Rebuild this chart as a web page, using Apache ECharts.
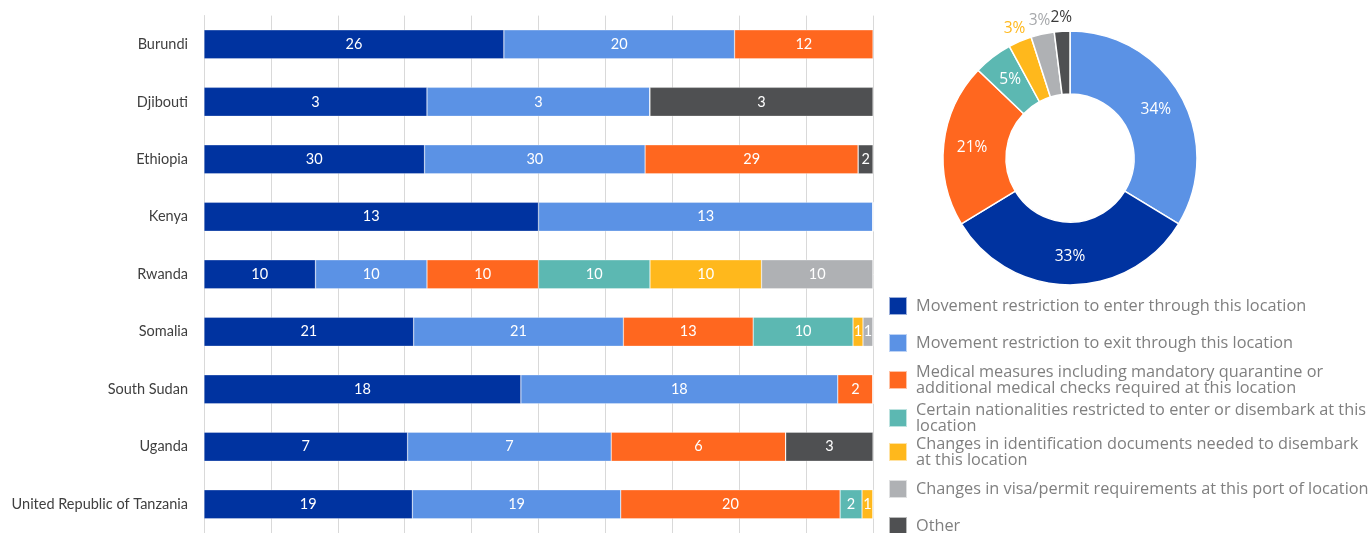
<!DOCTYPE html>
<html>
<head>
<meta charset="utf-8">
<script src="https://cdn.jsdelivr.net/npm/echarts@6/dist/echarts.min.js"></script>
<style>
  html, body { margin: 0; padding: 0; background: #ffffff; }
  #chart { width: 1370px; height: 533px; }
</style>
</head>
<body>
<div id="chart"></div>
<script>
// Countries, top to bottom
const countries = ['Burundi', 'Djibouti', 'Ethiopia', 'Kenya', 'Rwanda', 'Somalia',
  'South Sudan', 'Uganda', 'United Republic of Tanzania'];

// Measure types (legend order)
const measures = [
  'Movement restriction to enter through this location',
  'Movement restriction to exit through this location',
  'Medical measures including mandatory quarantine or additional medical checks required at this location',
  'Certain nationalities restricted to enter or disembark at this location',
  'Changes in identification documents needed to disembark at this location',
  'Changes in visa/permit requirements at this port of location',
  'Other'
];

// Wrapped legend text
const legendText = [
  'Movement restriction to enter through this location',
  'Movement restriction to exit through this location',
  'Medical measures including mandatory quarantine or\nadditional medical checks required at this location',
  'Certain nationalities restricted to enter or disembark at this\nlocation',
  'Changes in identification documents needed to disembark\nat this location',
  'Changes in visa/permit requirements at this port of location',
  'Other'
];

// Counts per country for each measure
const enterCounts       = [26, 3, 30, 13, 10, 21, 18, 7, 19];
const exitCounts        = [20, 3, 30, 13, 10, 21, 18, 7, 19];
const medicalCounts     = [12, 0, 29, 0, 10, 13, 2, 6, 20];
const nationalityCounts = [0, 0, 0, 0, 10, 10, 0, 0, 2];
const idDocCounts       = [0, 0, 0, 0, 10, 1, 0, 0, 1];
const visaCounts        = [0, 0, 0, 0, 10, 1, 0, 0, 0];
const otherCounts       = [0, 3, 2, 0, 0, 0, 0, 3, 0];

// Overall share (%) per measure, in donut order (clockwise from top)
const pieOrder  = [1, 0, 2, 3, 4, 5, 6];
const pieShares = [34, 33, 21, 5, 3, 3, 2];

const colors = ['#0033A0', '#5B92E5', '#FF671F', '#5CB8B2', '#FFB81C', '#AFB1B4', '#4F5052'];

const countSeries = [enterCounts, exitCounts, medicalCounts, nationalityCounts,
  idDocCounts, visaCounts, otherCounts];

// Each row is drawn as 100% of its own total
const rowTotals = countries.map((_, i) => countSeries.reduce((s, arr) => s + arr[i], 0));

const barSeries = countSeries.map((arr, k) => ({
  name: measures[k],
  type: 'bar',
  stack: 'share',
  barWidth: 29,
  itemStyle: { color: colors[k], borderColor: 'rgba(255,255,255,0.6)', borderWidth: 0.5 },
  label: {
    show: true,
    position: 'inside',
    color: '#ffffff',
    fontFamily: 'Lato',
    fontSize: 14.5,
    formatter: p => (p.data.count ? String(p.data.count) : '')
  },
  data: arr.map((c, i) => ({ value: c / rowTotals[i] * 100, count: c }))
}));

// Small slices carry their label just outside the ring, in the slice colour
const outsideIdx = [4, 5, 6];
const outsideLabelColors = { 4: '#FFB81C', 5: '#A6A8AB', 6: '#3A3A3A' };
const pieSeries = {
  name: 'Share',
  type: 'pie',
  center: [1070, 158],
  radius: [64, 127],
  startAngle: 90,
  avoidLabelOverlap: false,
  itemStyle: { borderColor: '#ffffff', borderWidth: 1.5 },
  label: {
    show: true,
    position: 'inside',
    color: '#ffffff',
    fontFamily: 'Open Sans',
    fontSize: 15.5,
    formatter: '{c}%'
  },
  labelLine: { show: false },
  labelLayout: { align: 'center', hideOverlap: false },
  data: pieOrder.map((k, j) => {
    const item = { name: measures[k], value: pieShares[j], itemStyle: { color: colors[k] } };
    if (outsideIdx.includes(k)) {
      item.label = {
        position: 'outside',
        alignTo: 'none',
        distanceToLabelLine: 0,
        color: outsideLabelColors[k],
        fontSize: 15.5
      };
      item.labelLine = { show: false, length: 14, length2: 0 };
    }
    return item;
  })
};

// One legend block per measure, stacked down the right side
const legendCenters = [305, 342, 380, 418, 452, 488, 525];
const legends = measures.map((m, k) => {
  const lines = legendText[k].split('\n').length;
  const h = lines > 1 ? 32 : 18;
  return {
    data: [m],
    orient: 'vertical',
    left: 888,
    top: legendCenters[k] - h / 2,
    padding: 0,
    itemWidth: 18,
    itemHeight: 18,
    icon: 'rect',
    selectedMode: false,
    formatter: () => legendText[k],
    textStyle: {
      color: '#7F7F7F',
      fontFamily: 'Open Sans',
      fontSize: 16.3,
      lineHeight: 16,
      padding: [0, 0, 0, 4]
    }
  };
});

const chart = echarts.init(document.getElementById('chart'), null, { renderer: 'canvas' });
chart.setOption({
  animation: false,
  color: colors,
  grid: { left: 204, right: 497, top: 15.6, height: 519.75, containLabel: false },
  xAxis: {
    type: 'value',
    min: 0,
    max: 100,
    interval: 10,
    axisLabel: { show: false },
    axisLine: { show: false },
    axisTick: { show: false },
    splitLine: { show: true, lineStyle: { color: '#D9D9D9', width: 1 } }
  },
  yAxis: {
    type: 'category',
    inverse: true,
    data: countries,
    axisLine: { show: true, lineStyle: { color: '#D9D9D9', width: 1 } },
    axisTick: { show: false },
    axisLabel: { color: '#3F3F3F', fontFamily: 'Lato', fontSize: 14.5, margin: 16 }
  },
  legend: legends,
  series: [...barSeries, pieSeries]
});
</script>
</body>
</html>
